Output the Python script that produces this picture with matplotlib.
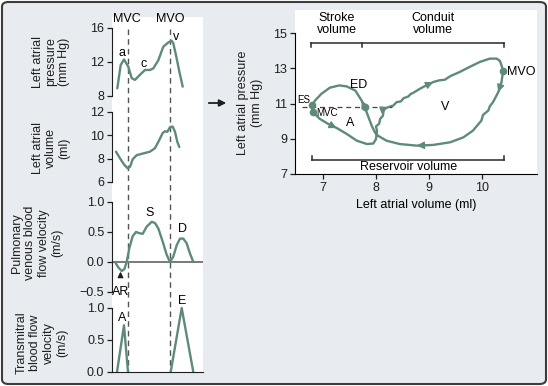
import numpy as np
import matplotlib
matplotlib.use("Agg")
import matplotlib.pyplot as plt
from matplotlib.patches import FancyBboxPatch, FancyArrowPatch

plt.rcParams['font.family'] = ['Liberation Sans', 'DejaVu Sans']
plt.rcParams['font.size'] = 8.5

GREEN = '#5e8b78'
INK = '#1e1e1e'
BG = '#e8ecf0'
W, H = 548, 386

# --- left column: traces over one cardiac cycle (t in arbitrary units) ---
t_mvc, t_mvo = 15.7, 58.0

t_press = [5.3, 8.7, 12, 16.3, 19.7, 23, 28, 33, 38, 41.3, 46.3, 51.3, 56.3, 59.7, 61.3, 64, 67.3, 70.7]
press = [8.9, 11.65, 12.3, 11.45, 10.1, 9.9, 10.5, 11.06, 11.06, 11.25, 12.2, 13.8, 14.3, 14.5, 14.2, 12.8, 10.9, 9.1]

t_vol = [4, 8, 12, 15.7, 18, 20.7, 24.7, 31.3, 38, 43, 47.3, 50.7, 53, 55.3, 58, 60.7, 63, 65.3, 67.3]
vol = [8.6, 8.03, 7.5, 7.17, 7.3, 7.95, 8.3, 8.45, 8.6, 8.9, 9.6, 10.2, 10.35, 10.3, 10.7, 10.75, 10.3, 9.45, 9.0]

t_pv = [3, 6.3, 9.7, 12.3, 14.7, 17.3, 20.7, 24, 27.3, 30.7, 34.7, 39.7, 43, 46.3, 50.7, 54.7,
        58, 61.3, 64.7, 68, 71.3, 74.7, 78, 81.3]
pv = [0, -0.09, -0.15, -0.12, 0, 0.23, 0.43, 0.5, 0.48, 0.47, 0.59, 0.67, 0.65, 0.56, 0.34, 0.12,
      0, 0.09, 0.28, 0.39, 0.39, 0.31, 0.14, 0]

t_awave = [5, 12, 16]
awave = [0, 0.73, 0]
t_ewave = [58.7, 69.7, 81.3]
ewave = [0, 1.0, 0]

# --- right panel: pressure-volume loop, starting at MVO ---
lav = [10.40, 10.37, 10.31, 10.21, 10.15, 10.12, 10.02, 9.99, 9.83, 9.65, 9.40, 9.08, 8.77, 8.45, 8.20,
       8.04, 7.98, 7.92, 7.86, 7.79, 7.73, 7.61, 7.45, 7.31, 7.13, 6.97, 6.85, 6.79, 6.81, 6.94,
       7.10, 7.26, 7.45, 7.64, 7.83, 7.95, 8.00, 8.02, 8.00, 8.06, 8.08, 8.13, 8.15, 8.23, 8.33,
       8.39, 8.47, 8.52, 8.61, 8.66, 8.70, 8.83, 8.95, 9.08, 9.20, 9.30, 9.40, 9.58, 9.77, 9.96,
       10.15, 10.28, 10.34, 10.37, 10.40]
lap = [12.85, 12.22, 11.65, 11.08, 10.85, 10.60, 10.35, 10.03, 9.46, 9.08, 8.80, 8.65, 8.61, 8.70, 8.89,
       9.17, 9.36, 9.74, 10.22, 10.79, 11.17, 11.74, 11.97, 12.03, 11.90, 11.55, 11.17, 10.89, 10.51, 10.13,
       9.84, 9.61, 9.27, 8.89, 8.70, 8.73, 8.98, 9.45, 9.70, 9.85, 10.13, 10.30, 10.70, 10.79, 10.89,
       11.08, 11.12, 11.30, 11.40, 11.55, 11.60, 11.84, 12.03, 12.22, 12.32, 12.35, 12.55, 12.79, 13.08, 13.36,
       13.55, 13.55, 13.42, 13.17, 12.85]
i_mvo, i_ed, i_es, i_mvc = 0, 19, 27, 28
arrow_idx = [2, 12, 20, 31, 43, 53]

stroke_vol = [6.78, 7.74]
conduit_vol = [7.74, 10.41]
reservoir_vol = [6.80, 10.42]
es_pressure_line = [6.6, 8.3, 10.8]


def box(x0, y0, x1, y1):
    return [x0 / W, 1 - y1 / H, (x1 - x0) / W, (y1 - y0) / H]


fig = plt.figure(figsize=(W / 100, H / 100), dpi=100)
fig.patch.set_facecolor('white')
fig.patches.append(FancyBboxPatch((2 / W, 2 / H), 1 - 4 / W, 1 - 4 / H,
                                  boxstyle='round,pad=0,rounding_size=0.012',
                                  transform=fig.transFigure, facecolor=BG,
                                  edgecolor='#3c3c3c', lw=1.5, zorder=-10))

# white backdrop with the dashed valve timing lines
bg = fig.add_axes(box(112, 17, 203, 373))
bg.set_xlim(0, 91)
bg.set_ylim(373, 17)
bg.set_facecolor('white')
for s in bg.spines.values():
    s.set_visible(False)
bg.set_xticks([])
bg.set_yticks([])
for tv in (t_mvc, t_mvo):
    bg.plot([tv, tv], [29, 372], color='#555555', lw=1, ls=(0, (4, 3)))


def left_axes(rect, ylim, yticks, ylabels):
    ax = fig.add_axes(box(*rect))
    ax.set_facecolor('none')
    ax.set_xlim(0, 91)
    ax.set_ylim(*ylim)
    ax.set_xticks([])
    ax.set_yticks(yticks)
    ax.set_yticklabels(ylabels)
    for k in ('top', 'right', 'bottom'):
        ax.spines[k].set_visible(False)
    ax.spines['left'].set_color(INK)
    ax.tick_params(axis='y', direction='out', length=3.5, width=0.9, pad=2,
                   labelsize=9, colors=INK)
    return ax


ax_p = left_axes((112, 28, 203, 96), (8, 16), [8, 12, 16], ['8', '12', '16'])
ax_v = left_axes((112, 112, 203, 182), (6, 12), [6, 8, 10, 12], ['6', '8', '10', '12'])
ax_f = left_axes((112, 202, 203, 292), (-0.5, 1.0), [-0.5, 0, 0.5, 1.0],
                 ['\u22120.5', '0.0', '0.5', '1.0'])
ax_m = left_axes((112, 308, 203, 372), (0, 1.0), [0, 0.5, 1.0], ['0.0', '0.5', '1.0'])
ax_m.spines['bottom'].set_visible(True)
ax_m.spines['bottom'].set_color(INK)
ax_f.axhline(0, color='#555555', lw=1.1)

kw = dict(color=GREEN, lw=1.7, clip_on=False, solid_joinstyle='round', solid_capstyle='round')
ax_p.plot(t_press, press, **kw)
ax_v.plot(t_vol, vol, **kw)
ax_f.plot(t_pv, pv, **kw)
ax_m.plot(t_awave, awave, **kw)
ax_m.plot(t_ewave, ewave, **kw)

ax_p.text(t_mvc - 1, 16.4, 'MVC', ha='center', va='bottom', fontsize=9)
ax_p.text(t_mvo, 16.4, 'MVO', ha='center', va='bottom', fontsize=9)
ax_p.text(9.7, 13.0, 'a', ha='center', va='center', fontsize=9)
ax_p.text(32, 11.8, 'c', ha='center', va='center', fontsize=9)
ax_p.text(63.7, 14.95, 'v', ha='center', va='center', fontsize=9)
ax_f.text(38, 0.81, 'S', ha='center', va='center', fontsize=9)
ax_f.text(70.7, 0.55, 'D', ha='center', va='center', fontsize=9)
ax_f.annotate('AR', xy=(8.5, -0.16), xytext=(8.5, -0.5), ha='center', va='center', fontsize=9,
              arrowprops=dict(arrowstyle='-|>', color=INK, lw=1, shrinkA=5, shrinkB=0,
                              mutation_scale=8))
ax_m.text(9.7, 0.84, 'A', ha='center', va='center', fontsize=9)
ax_m.text(69.7, 1.11, 'E', ha='center', va='center', fontsize=9)

lab = dict(rotation=90, ha='center', va='center', multialignment='center',
           fontsize=9, linespacing=1.15, color=INK)
fig.text(51 / W, 1 - 62 / H, 'Left atrial\npressure\n(mm Hg)', **lab)
fig.text(51 / W, 1 - 148 / H, 'Left atrial\nvolume\n(ml)', **lab)
fig.text(37 / W, 1 - 243 / H, 'Pulmonary\nvenous blood\nflow velocity\n(m/s)', **lab)
fig.text(42 / W, 1 - 343 / H, 'Transmitral\nblood flow\nvelocity\n(m/s)', **lab)

# arrow between the panels
fig.patches.append(FancyArrowPatch(
    (206 / W, 1 - 103 / H), (229 / W, 1 - 103 / H), transform=fig.transFigure,
    arrowstyle='-|>', mutation_scale=10, color=INK, lw=1.3))

# --- right panel ---
ax = fig.add_axes(box(295, 10, 537, 175))
ax.set_facecolor('white')
ax.set_xlim(6.472, 11.04)
ax.set_ylim(7 - 1 / 17.5, 16.31)
ax.set_xticks([7, 8, 9, 10])
ax.set_yticks([7, 9, 11, 13, 15])
for k in ('top', 'right'):
    ax.spines[k].set_visible(False)
ax.spines['left'].set_bounds(7, 15)
ax.spines['bottom'].set_position(('data', 7))
ax.tick_params(direction='out', length=3.5, width=0.9, pad=2, labelsize=9, colors=INK)
ax.set_xlabel('Left atrial volume (ml)', fontsize=9, labelpad=4)
fig.text(250 / W, 1 - 103 / H, 'Left atrial pressure\n(mm Hg)', **lab)

ax.plot(lav, lap, **kw)
for i in arrow_idx:
    ax.annotate('', xy=(lav[i], lap[i]), xytext=(lav[i - 1], lap[i - 1]),
                arrowprops=dict(arrowstyle='-|>', color=GREEN, lw=1, shrinkA=0, shrinkB=0,
                                mutation_scale=11))
ax.plot([lav[i] for i in (i_mvo, i_ed, i_es, i_mvc)],
        [lap[i] for i in (i_mvo, i_ed, i_es, i_mvc)],
        'o', color=GREEN, ms=4.5, zorder=5)
ax.plot(es_pressure_line[:2], [es_pressure_line[2]] * 2, color='#444444', lw=0.9, ls=(0, (4, 3)))

ax.text(6.64, 11.2, 'ES', ha='center', va='center', fontsize=7)
ax.text(6.88, 10.45, 'MVC', ha='left', va='center', fontsize=7)
ax.text(7.51, 9.9, 'A', ha='center', va='center', fontsize=9)
ax.text(7.67, 12.05, 'ED', ha='center', va='center', fontsize=9)
ax.text(9.3, 10.8, 'V', ha='center', va='center', fontsize=9)
ax.text(10.47, 12.8, 'MVO', ha='left', va='center', fontsize=9)

bk = dict(color='#2a2a2a', lw=1.1, clip_on=False)
top_y, top_tick = 14.45, 14.22
ax.plot([stroke_vol[0], conduit_vol[1]], [top_y, top_y], **bk)
for xv in (stroke_vol[0], stroke_vol[1], conduit_vol[1]):
    ax.plot([xv, xv], [top_y, top_tick], **bk)
bot_y, bot_tick = 7.78, 8.03
ax.plot(reservoir_vol, [bot_y, bot_y], **bk)
for xv in reservoir_vol:
    ax.plot([xv, xv], [bot_y, bot_tick], **bk)
ax.text(np.mean(stroke_vol), 15.5, 'Stroke\nvolume', ha='center', va='center',
        fontsize=9, linespacing=1.0)
ax.text(np.mean(conduit_vol), 15.5, 'Conduit\nvolume', ha='center', va='center',
        fontsize=9, linespacing=1.0)
ax.text(np.mean(reservoir_vol), 7.38, 'Reservoir volume', ha='center', va='center', fontsize=9)

fig.savefig('out.png', dpi=100, facecolor=fig.get_facecolor())
